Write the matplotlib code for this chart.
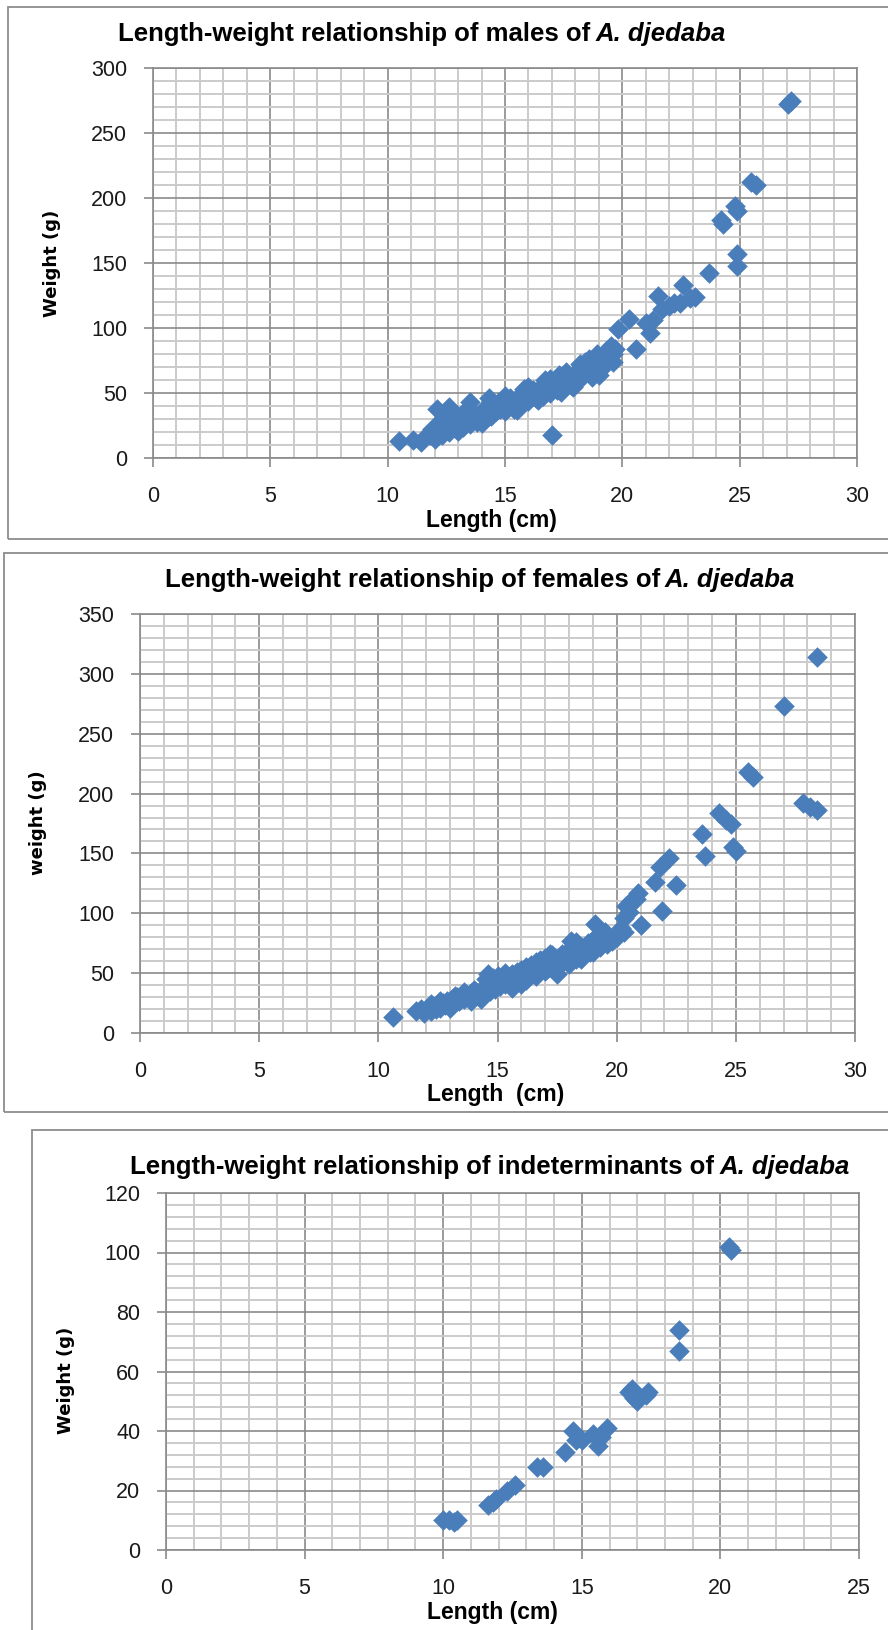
import matplotlib
matplotlib.use("Agg")
import matplotlib.pyplot as plt
from matplotlib import font_manager
from matplotlib.patches import Rectangle
from matplotlib.ticker import MultipleLocator

# males of A. djedaba
male_len = [10.5, 11.1, 11.4, 11.6, 11.8, 11.9, 12.0, 12.1, 12.1, 12.2, 12.3, 12.4, 12.5, 12.6, 12.6,
            12.7, 12.8, 12.9, 13.0, 13.1, 13.2, 13.3, 13.4, 13.5, 13.5, 13.6, 13.7, 13.8, 13.9, 14.0,
            14.1, 14.2, 14.3, 14.4, 14.5, 14.6, 14.7, 14.8, 14.9, 15.0, 15.1, 15.2, 15.3, 15.4, 15.5,
            15.6, 15.7, 15.8, 15.9, 16.0, 16.1, 16.2, 16.3, 16.4, 16.5, 16.6, 16.7, 16.8, 16.9, 17.0,
            17.0, 17.1, 17.2, 17.3, 17.4, 17.5, 17.6, 17.7, 17.8, 17.9, 18.0, 18.1, 18.3, 18.5, 18.6,
            18.7, 18.8, 18.9, 19.0, 19.1, 19.2, 19.3, 19.4, 19.5, 19.6, 19.7, 19.8, 20.3, 20.6, 21.0,
            21.2, 21.3, 21.5, 21.7, 22.0, 22.2, 22.45, 22.6, 22.9, 23.1, 23.7, 24.2, 24.3, 24.8, 24.9,
            24.9, 24.9, 25.5, 25.7, 27.05, 27.2,
            12.3, 12.9, 13.3, 13.0, 14.0, 14.4, 15.0, 15.5, 16.0, 16.4, 16.9, 17.4, 17.9, 17.3, 18.7,
            18.4, 19.0, 19.3, 14.3, 15.8, 16.7, 17.6, 18.2, 18.9, 19.6]
male_wt = [13, 14, 12, 16, 18, 22, 15, 38, 20, 24, 18, 22, 26, 39, 20,
           24, 28, 22, 26, 30, 24, 28, 32, 43, 26, 30, 34, 28, 32, 36,
           30, 34, 38, 32, 40, 36, 42, 38, 44, 36, 40, 46, 42, 38, 44,
           48, 42, 46, 50, 44, 48, 52, 46, 50, 54, 48, 52, 56, 50, 54,
           18, 58, 52, 56, 60, 54, 58, 62, 56, 64, 60, 66, 62, 70, 76,
           64, 72, 66, 78, 70, 74, 82, 76, 86, 80, 84, 99, 107, 84, 104,
           96, 106, 125, 115, 117, 119, 119, 133, 123, 124, 142, 183, 180, 194, 190,
           157, 148, 212, 210, 272, 275,
           30, 33, 36, 21, 27, 44, 48, 37, 55, 45, 61, 51, 55, 64, 62,
           74, 64, 72, 46, 53, 60, 66, 72, 80, 74]

# females of A. djedaba
female_len = [10.6, 11.6, 11.8, 11.9, 12.0, 12.1, 12.2, 12.3, 12.4, 12.5, 12.6, 12.7, 12.8, 12.9, 13.0,
              13.1, 13.2, 13.3, 13.4, 13.5, 13.6, 13.7, 13.8, 13.9, 14.0, 14.1, 14.2, 14.3, 14.4, 14.5,
              14.5, 14.6, 14.7, 14.8, 14.9, 15.0, 15.0, 15.1, 15.2, 15.3, 15.4, 15.5, 15.6, 15.7, 15.8,
              15.9, 16.0, 16.1, 16.2, 16.3, 16.4, 16.5, 16.6, 16.7, 16.8, 16.9, 17.0, 17.1, 17.2, 17.3,
              17.4, 17.5, 17.6, 17.7, 17.8, 17.9, 18.0, 18.1, 18.2, 18.3, 18.4, 18.5, 18.6, 18.7, 18.8,
              18.9, 19.0, 19.1, 19.2, 19.3, 19.4, 19.6, 19.8, 20.0, 20.2, 20.3, 20.4, 20.5, 20.6, 20.8,
              20.9, 21.0, 21.6, 21.8, 21.9, 22.2, 22.5, 23.6, 23.7, 24.3, 24.6, 24.8, 24.9, 25.0, 25.5,
              25.7, 27.0, 27.8, 28.1, 28.4, 28.4,
              12.6, 13.2, 13.6, 14.0, 14.3, 14.8, 15.3, 15.6, 16.2, 16.6, 17.0, 17.5, 18.0, 18.5, 19.0,
              19.5, 20.3, 12.2, 13.0, 13.9, 16.0, 17.2, 18.3]
female_wt = [13, 18, 20, 17, 19, 21, 18, 22, 20, 23, 21, 25, 23, 27, 24,
             28, 26, 30, 27, 31, 28, 32, 29, 33, 30, 34, 31, 36, 33, 45,
             38, 49, 35, 41, 37, 48, 43, 39, 45, 41, 47, 43, 49, 45, 51,
             47, 53, 49, 55, 51, 57, 53, 59, 55, 61, 57, 63, 54, 60, 65,
             57, 49, 62, 66, 60, 68, 64, 77, 70, 62, 67, 72, 65, 70, 75,
             68, 78, 91, 82, 72, 76, 74, 77, 80, 88, 96, 106, 101, 110, 112,
             117, 90, 126, 139, 102, 146, 124, 166, 148, 184, 178, 175, 155, 152, 218,
             214, 273, 192, 189, 186, 314,
             27, 31, 34, 36, 28, 46, 50, 38, 44, 48, 52, 56, 58, 62, 68,
             84, 84, 24, 21, 27, 41, 66, 76]

# indeterminants of A. djedaba
ind_len = [10.0, 10.2, 10.4, 10.5, 11.6, 11.8, 11.9, 12.3, 12.6, 13.4, 13.6, 14.4, 14.7, 14.8, 15.0,
           15.4, 15.6, 15.7, 15.9, 16.7, 16.8, 16.9, 17.0, 17.3, 17.4, 18.5, 18.5, 20.3, 20.4]
ind_wt = [10, 10, 9.5, 10, 15, 16, 17, 20, 22, 28, 28, 33, 40, 37, 37,
          39, 35, 38, 41, 53, 54, 51, 50, 52, 53, 74, 67, 102, 101]

titles = ["Length-weight relationship of males of", "Length-weight relationship of females of",
          "Length-weight relationship of indeterminants of"]
ylabels = ["Weight (g)", "weight (g)", "Weight (g)"]
xlabels = ["Length (cm)", "Length  (cm)", "Length (cm)"]


def has_font(name):
    try:
        font_manager.findfont(font_manager.FontProperties(family=name), fallback_to_default=False)
        return True
    except ValueError:
        return False


narrow = "Liberation Sans Narrow" if has_font("Liberation Sans Narrow") else "Liberation Sans"

W, H = 888, 1630
fig = plt.figure(figsize=(W / 100, H / 100), dpi=100)
blue = "#4A7EBB"


def px_axes(left, right, top, bottom):
    return fig.add_axes([left / W, 1 - bottom / H, (right - left) / W, (bottom - top) / H])


def box(x0, y0, x1, y1):
    fig.patches.append(Rectangle((x0 / W, 1 - y1 / H), (x1 - x0) / W, (y1 - y0) / H,
                                 transform=fig.transFigure, fill=False, ec="#8c8c8c", lw=1.3))


def panel(ax, xs, ys, xmax, ymax, ymaj, ymin_step, xlabel, ylabel, xl_px, yl_px, lab_y):
    ax.scatter(xs, ys, marker="D", s=110, color=blue, linewidths=0, zorder=3)
    ax.set_xlim(0, xmax)
    ax.set_ylim(0, ymax)
    ax.xaxis.set_major_locator(MultipleLocator(5))
    ax.xaxis.set_minor_locator(MultipleLocator(1))
    ax.yaxis.set_major_locator(MultipleLocator(ymaj))
    ax.yaxis.set_minor_locator(MultipleLocator(ymin_step))
    ax.grid(which="minor", color="#cbcbcb", lw=1.4)
    ax.grid(which="major", color="#8a8a8a", lw=1.2)
    ax.set_axisbelow(True)
    for s in ax.spines.values():
        s.set_color("#8a8a8a")
        s.set_linewidth(1.2)
    ax.tick_params(which="major", direction="out", length=6.5, width=1.2, color="#8a8a8a",
                   labelsize=15.5, labelcolor="#1a1a1a")
    ax.tick_params(which="minor", length=0)
    ax.tick_params(axis="x", pad=14)
    ax.tick_params(axis="y", pad=12)
    for lab in ax.get_xticklabels() + ax.get_yticklabels():
        lab.set_family(narrow)
    fig.text(xl_px / W, 1 - lab_y / H, xlabel, ha="center", va="center", family=narrow,
             fontweight="bold", fontsize=16.5)
    fig.text(yl_px[0] / W, 1 - yl_px[1] / H, ylabel, ha="center", va="center", rotation=90,
             family="DejaVu Sans", fontweight="bold", fontsize=13)


def title(cx, cy, regular, italic):
    t1 = fig.text(0, 1 - cy / H, regular, ha="left", va="center", family=narrow,
                  fontweight="bold", fontsize=18.5)
    t2 = fig.text(0, 1 - cy / H, italic, ha="left", va="center", family=narrow,
                  fontweight="bold", fontstyle="italic", fontsize=18.5)
    r = fig.canvas.get_renderer()
    w1 = t1.get_window_extent(r).width
    w2 = t2.get_window_extent(r).width
    gap = 5
    start = cx - (w1 + gap + w2) / 2
    t1.set_x(start / W)
    t2.set_x((start + w1 + gap) / W)


box(8, 7, 895, 539)
box(4, 553, 895, 1112)
box(32, 1130, 895, 1640)

ax1 = px_axes(153, 857, 68, 458)
panel(ax1, male_len, male_wt, 30, 300, 50, 10, xlabels[0], ylabels[0], 491, (52, 263), 521)
title(422, 34, titles[0], "A. djedaba")

ax2 = px_axes(140, 855, 614, 1033)
panel(ax2, female_len, female_wt, 30, 350, 50, 10, xlabels[1], ylabels[1], 496, (38, 823), 1095)
title(480, 580, titles[1], "A. djedaba")

ax3 = px_axes(166, 859, 1193, 1550)
panel(ax3, ind_len, ind_wt, 25, 120, 20, 4, xlabels[2], ylabels[2], 492, (66, 1380), 1612)
title(490, 1167, titles[2], "A. djedaba")

fig.savefig("out.png", dpi=100)
